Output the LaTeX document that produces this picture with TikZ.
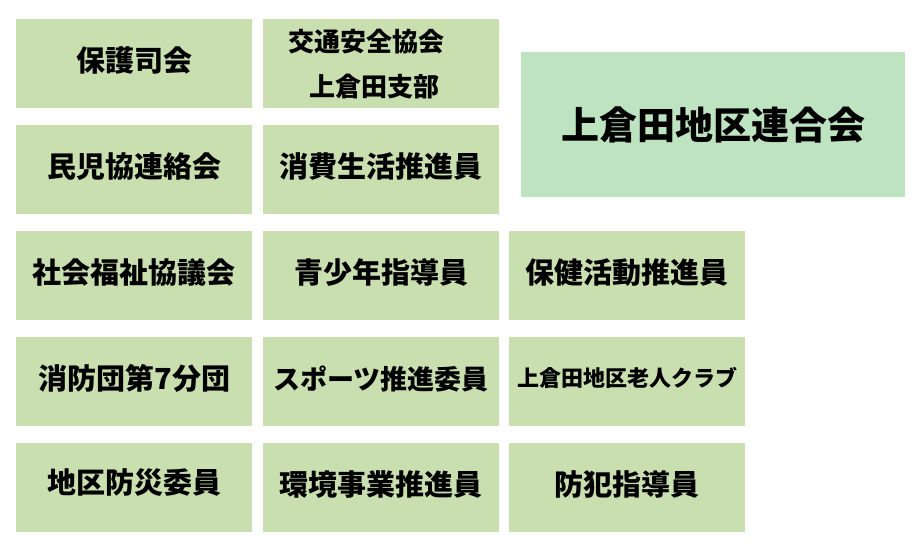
\documentclass[tikz,border=0pt]{standalone}
\usepackage{fontspec}
\setmainfont{Noto Sans CJK JP}
\definecolor{cellGreen}{RGB}{202,223,176}
\definecolor{headGreen}{RGB}{190,227,192}

\begin{document}
\begin{tikzpicture}[x=1pt,y=-1pt,
    box/.style={fill=cellGreen, inner sep=0pt, anchor=north west,
      minimum width=236pt, minimum height=89pt},
    cell/.style={box, text depth=9pt,
      font=\bfseries\fontsize{29}{34}\selectfont},
    head/.style={fill=headGreen, inner sep=0pt, anchor=north west,
      minimum width=384pt, minimum height=145pt,
      font=\bfseries\fontsize{38}{44}\selectfont}]
    \useasboundingbox (0,0) rectangle (920,549);

    % Draw the big box
    \node[head] (rengo) at (521, 52) {上倉田地区連合会};

    % First column
    \node[cell] (hogoshi) at (16, 19) {保護司会};
    \node[cell] (minji) at (16, 125) {民児協連絡会};
    \node[cell] (shakyo) at (16, 231) {社会福祉協議会};
    \node[cell] (shobo) at (16, 337) {消防団第7分団};
    \node[cell, text depth=14pt] (bosai) at (16, 443) {地区防災委員};

    % Second column
    \node[box, align=left, text width=186pt, inner xsep=25pt,
      font=\bfseries\fontsize{26}{45}\selectfont] (kotsu) at (263, 19)
      {交通安全協会\\\hspace*{21pt}上倉田支部};
    \node[cell] (shohi) at (263, 125) {消費生活推進員};
    \node[cell] (seishonen) at (263, 231) {青少年指導員};
    \node[cell, font=\bfseries\fontsize{27}{32}\selectfont] (sports) at (263, 337) {スポーツ推進委員};
    \node[cell] (kankyo) at (263, 443) {環境事業推進員};

    % Third column
    \node[cell] (hoken) at (509, 231) {保健活動推進員};
    \node[cell, font=\bfseries\fontsize{22}{26}\selectfont] (rojin) at (509, 337) {上倉田地区老人クラブ};
    \node[cell] (bohan) at (509, 443) {防犯指導員};
\end{tikzpicture}
\end{document}
